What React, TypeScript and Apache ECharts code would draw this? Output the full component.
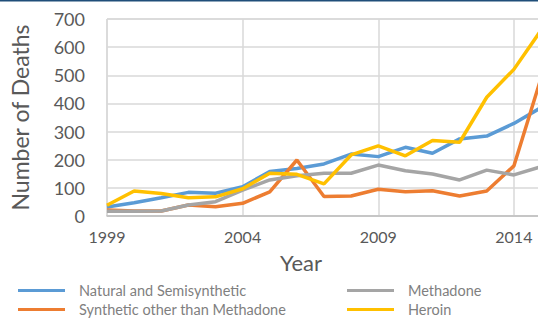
import React, { useEffect, useRef } from "react";
import * as echarts from "echarts";

const years = ["1999","2000","2001","2002","2003","2004","2005","2006","2007","2008","2009","2010","2011","2012","2013","2014","2015"];
const natural = [32, 47, 65, 84, 81, 104, 158, 169, 185, 220, 211, 244, 223, 274, 284, 329, 385];
const synthetic = [21, 18, 18, 39, 33, 45, 86, 199, 69, 71, 95, 86, 90, 71, 89, 178, 490];
const methadone = [17, 17, 18, 39, 51, 92, 128, 143, 152, 152, 181, 161, 149, 128, 163, 146, 175];
const heroin = [38, 89, 80, 65, 68, 97, 152, 148, 114, 217, 249, 214, 268, 262, 422, 521, 660];

const names = ["Natural and Semisynthetic", "Synthetic other than Methadone", "Methadone", "Heroin"];
const colors = ["#5b9bd5", "#ed7d31", "#a5a5a5", "#ffc000"];
const seriesData = [natural, synthetic, methadone, heroin];

const FONT = "Lato";

export default function App() {
  const ref = useRef<HTMLDivElement>(null);
  useEffect(() => {
    document.body.style.margin = "0";
    document.body.style.overflow = "hidden";
    const chart = echarts.init(ref.current!, null, { renderer: "svg" });
    const legendCommon = {
      orient: "horizontal" as const,
      itemWidth: 47,
      itemHeight: 3,
      icon: "rect",
      padding: 0,
      textStyle: { fontFamily: FONT, fontSize: 14.5, color: "#7f7f7f", padding: [0, 0, 0, 9] },
    };
    const legendPos = [
      { left: 18, top: 283 },
      { left: 18, top: 302 },
      { left: 347, top: 283 },
      { left: 347, top: 302 },
    ];
    chart.setOption({
      animation: false,
      backgroundColor: "#ffffff",
      color: colors,
      graphic: [
        { type: "rect", left: 0, top: 0, shape: { width: 560, height: 1.5 }, style: { fill: "#1f4e79" } },
        {
          type: "text",
          x: 301,
          y: 262,
          style: { text: "Year", fontFamily: FONT, fontSize: 22, fill: "#595959", align: "center", verticalAlign: "middle" },
        },
      ],
      legend: names.map((n, i) => ({ ...legendCommon, ...legendPos[i], data: [n] })),
      grid: { left: 105, right: 5, top: 19, bottom: 102, show: true, borderColor: "#c9c9c9", borderWidth: 1 },
      xAxis: {
        type: "category",
        data: years,
        boundaryGap: false,
        axisLine: { lineStyle: { color: "#bfbfbf", width: 1.5 } },
        axisTick: { show: false },
        axisLabel: { interval: 4, fontFamily: FONT, fontSize: 16, color: "#595959", margin: 12 },
        splitLine: { show: true, interval: 4, lineStyle: { color: "#d9d9d9", width: 1.5 } },
      },
      yAxis: {
        type: "value",
        min: 0,
        max: 700,
        interval: 100,
        name: "Number of Deaths",
        nameLocation: "middle",
        nameGap: 76,
        nameTextStyle: { fontFamily: FONT, fontSize: 23, color: "#595959" },
        axisLine: { show: false },
        axisTick: { show: false },
        axisLabel: { fontFamily: FONT, fontSize: 18, color: "#595959", margin: 22 },
        splitLine: { lineStyle: { color: "#d9d9d9", width: 1.5 } },
      },
      series: names.map((n, i) => ({
        name: n,
        type: "line",
        data: seriesData[i],
        showSymbol: false,
        symbol: "none",
        lineStyle: { width: 3.5, color: colors[i] },
        itemStyle: { color: colors[i] },
      })),
    });
    return () => chart.dispose();
  }, []);
  return (
    <div style={{ position: "fixed", left: 0, top: 0, width: 538, height: 318, overflow: "hidden" }}>
      <div ref={ref} style={{ width: 546, height: 318 }} />
    </div>
  );
}
